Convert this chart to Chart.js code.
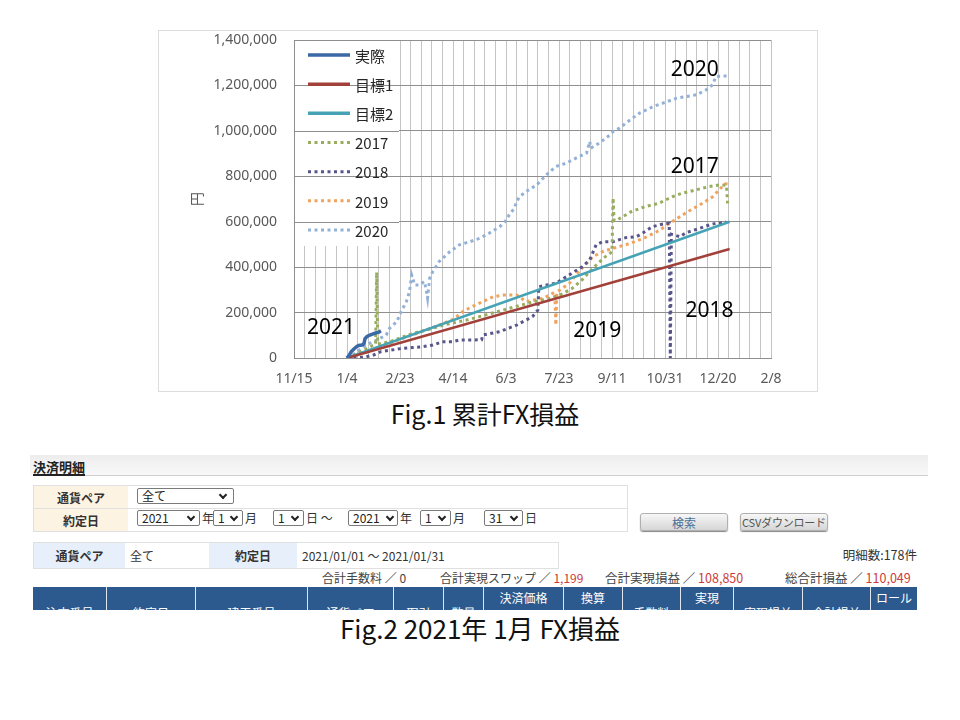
<!DOCTYPE html>
<html><head><meta charset="utf-8">
<script src="https://cdn.jsdelivr.net/npm/chart.js@4.4.1/dist/chart.umd.min.js"></script>
<style>
body{margin:0;width:960px;height:720px;background:#fff;position:relative;overflow:hidden;font-family:"Noto Sans CJK JP","Noto Sans",sans-serif;color:#333;}
#chartBox{position:absolute;left:158px;top:30px;width:660px;height:362px;border:1px solid #dcdcdc;box-sizing:border-box;}
canvas{display:block}
.a{position:absolute;white-space:nowrap;line-height:1;}
.cap{position:absolute;white-space:nowrap;color:#111;transform:translate(-50%,-50%);font-family:"Noto Sans CJK JP","Noto Sans",sans-serif;}
.box{position:absolute;box-sizing:border-box;}
.sel{position:absolute;box-sizing:border-box;border:1px solid #7a7a7a;border-radius:2px;height:16px;font-size:12px;line-height:14px;padding-left:4px;background:#fff;color:#222;}
.sel i{position:absolute;top:3px;width:4px;height:4px;border-right:2px solid #222;border-bottom:2px solid #222;transform:rotate(45deg);}
.lab{position:absolute;box-sizing:border-box;font-size:12px;font-weight:bold;color:#333;display:flex;align-items:center;justify-content:center;}
.val{position:absolute;box-sizing:border-box;font-size:12px;color:#333;display:flex;align-items:center;padding-left:5px;}
.btn{position:absolute;box-sizing:border-box;height:18px;border:1px solid #b0b0b0;border-radius:3px;background:linear-gradient(#f7f7f7,#d6d6d6);font-size:12px;display:flex;align-items:center;justify-content:center;box-shadow:0 1px 1px #888;white-space:nowrap;}
.red{color:#cc3b3b;}
#hdr{position:absolute;left:33px;top:587px;width:884px;height:23px;background:#2d5a8e;overflow:hidden;}
#hdr div{position:absolute;top:0;height:60px;border-left:1px solid #dfe6ef;box-sizing:border-box;color:#fff;font-size:12px;text-align:center;line-height:17px;}
</style></head>
<body>
<div id="chartBox"><canvas id="c" width="658" height="360"></canvas></div>
<div class="cap" style="left:485px;top:413px;font-size:25px;">Fig.1 累計FX損益</div>

<!-- Fig.2 screenshot -->
<div class="box" style="left:30px;top:455px;width:898px;height:21px;background:linear-gradient(#ededed,#f9f9f9);"></div>
<div class="a" style="left:33px;top:460px;font-size:13px;font-weight:bold;color:#222;">決済明細</div>
<div class="box" style="left:33px;top:474px;width:52px;height:2px;background:#222;"></div>
<div class="box" style="left:85px;top:475px;width:843px;height:1px;background:#d0d0d0;"></div>

<div class="box" style="left:33px;top:485px;width:595px;height:47px;border:1px solid #e0e0e0;"></div>
<div class="box" style="left:33px;top:508px;width:595px;height:1px;background:#e0e0e0;"></div>
<div class="lab" style="left:34px;top:486px;width:94px;height:22px;background:#fdf3e3;">通貨ペア</div>
<div class="lab" style="left:34px;top:509px;width:94px;height:22px;background:#fdf3e3;">約定日</div>
<div class="sel" style="left:137px;top:488px;width:97px;">全て<i style="left:82px"></i></div>
<div class="sel" style="left:137px;top:510px;width:63px;">2021<i style="left:50px"></i></div><div class="a" style="left:202px;top:512px;font-size:12px;">年</div>
<div class="sel" style="left:213px;top:510px;width:30px;">1<i style="left:17px"></i></div><div class="a" style="left:245px;top:512px;font-size:12px;">月</div>
<div class="sel" style="left:273px;top:510px;width:31px;">1<i style="left:18px"></i></div><div class="a" style="left:306px;top:512px;font-size:12px;">日 ～</div>
<div class="sel" style="left:348px;top:510px;width:50px;">2021<i style="left:38px"></i></div><div class="a" style="left:400px;top:512px;font-size:12px;">年</div>
<div class="sel" style="left:420px;top:510px;width:31px;">1<i style="left:18px"></i></div><div class="a" style="left:453px;top:512px;font-size:12px;">月</div>
<div class="sel" style="left:484px;top:510px;width:39px;">31<i style="left:26px"></i></div><div class="a" style="left:525px;top:512px;font-size:12px;">日</div>
<div class="btn" style="left:640px;top:513px;width:88px;color:#4b6f96;">検索</div>
<div class="btn" style="left:740px;top:513px;width:88px;color:#555;font-size:11px;letter-spacing:-0.2px;">CSVダウンロード</div>

<div class="box" style="left:33px;top:542px;width:526px;height:27px;border:1px solid #e0e0e0;"></div>
<div class="lab" style="left:34px;top:543px;width:91px;height:25px;background:#e7f0fa;">通貨ペア</div>
<div class="val" style="left:125px;top:543px;width:84px;height:25px;">全て</div>
<div class="lab" style="left:209px;top:543px;width:88px;height:25px;background:#e7f0fa;">約定日</div>
<div class="val" style="left:297px;top:543px;width:261px;height:25px;">2021/01/01 ～ 2021/01/31</div>
<div class="a" style="right:43px;top:549px;font-size:12.5px;">明細数:178件</div>

<div class="a" style="left:322px;top:572px;font-size:12px;color:#444;">合計手数料 ／ 0</div>
<div class="a" style="left:440px;top:572px;font-size:12px;color:#444;">合計実現スワップ ／ <span class="red">1,199</span></div>
<div class="a" style="left:605px;top:572px;font-size:12.5px;color:#444;">合計実現損益 ／ <span class="red">108,850</span></div>
<div class="a" style="left:785px;top:572px;font-size:12.5px;color:#444;">総合計損益 ／ <span class="red">110,049</span></div>

<div id="hdr">
<div style="left:0;width:73px;border-left:none;padding-top:17px;">注文番号</div>
<div style="left:73px;width:89px;padding-top:17px;">約定日</div>
<div style="left:162px;width:112px;padding-top:17px;">建玉番号</div>
<div style="left:274px;width:86px;padding-top:17px;">通貨ペア</div>
<div style="left:360px;width:50px;padding-top:17px;">取引</div>
<div style="left:410px;width:40px;padding-top:17px;">数量</div>
<div style="left:450px;width:80px;padding-top:2px;">決済価格</div>
<div style="left:530px;width:59px;padding-top:2px;">換算</div>
<div style="left:589px;width:58px;padding-top:17px;">手数料</div>
<div style="left:647px;width:53px;padding-top:2px;">実現</div>
<div style="left:700px;width:69px;padding-top:17px;">実現損益</div>
<div style="left:769px;width:68px;padding-top:17px;">合計損益</div>
<div style="left:837px;width:47px;padding-top:2px;">ロール</div>
</div>
<div class="cap" style="left:480px;top:627px;font-size:26px;">Fig.2 2021年 1月 FX損益</div>

<script>
// ---------- data ----------
const xTickLabels = ['11/15','1/4','2/23','4/14','6/3','7/23','9/11','10/31','12/20','2/8'];
const yMax = 1400000, yStep = 200000;

const actualDates  = ['1/4','1/6','1/8','1/11','1/13','1/15','1/18','1/20','1/21','1/23','1/25','1/28','1/31','2/3','2/5'];
const actualValues = [0,12000,28000,42000,50000,55000,57000,62000,85000,95000,100000,105000,110049,114000,120000];

const target1Dates  = ['1/4','12/31'];
const target1Values = [0,480000];
const target2Dates  = ['1/4','12/31'];
const target2Values = [0,600000];

const y2017Dates  = ['1/4','1/12','1/20','1/28','1/31','2/1','2/2','2/12','2/23','3/5','3/15','3/25','4/5','4/15','5/1','5/15','6/1','6/15','7/1','7/15','7/25','8/4','8/14','8/24','9/3','9/11','9/12','9/13','9/16','9/29','10/12','10/25','11/7','11/16','11/29','12/12','12/21','12/28','12/29'];
const y2017Values = [0,15000,35000,55000,60000,377000,62000,70000,88000,105000,118000,130000,145000,155000,172000,190000,212000,230000,250000,262000,280000,305000,345000,395000,440000,467000,705000,605000,608000,644000,666000,681000,710000,725000,740000,755000,762000,760000,681000];

const y2018Dates  = ['1/4','1/20','1/29','2/5','2/15','2/26','3/7','3/17','3/26','4/4','4/14','4/20','5/11','5/12','5/28','6/13','6/28','7/3','7/4','7/20','7/30','8/14','8/21','8/27','9/2','9/12','9/24','10/4','10/10','10/19','10/29','11/4','11/5','11/6','11/14','11/20','12/3','12/12','12/18','12/28'];
const y2018Values = [0,3000,13000,28000,35000,43000,46000,50000,57000,72000,72000,79000,80000,101000,116000,145000,182000,211000,314000,329000,358000,402000,432000,498000,512000,512000,530000,534000,550000,578000,590000,593000,0,545000,534000,552000,571000,586000,593000,598000];

const y2019Dates  = ['1/4','1/15','1/31','2/15','3/1','3/15','4/1','4/14','4/25','5/12','5/22','6/1','6/13','6/22','7/8','7/14','7/19','7/20','7/21','7/24','8/2','8/8','8/15','8/24','9/2','9/12','9/25','10/10','10/25','11/5','11/20','12/5','12/15','12/22','12/27','12/30'];
const y2019Values = [0,15000,40000,68000,92000,115000,145000,170000,210000,248000,270000,277000,277000,248000,263000,277000,290000,145000,292000,300000,329000,366000,402000,446000,468000,483000,500000,525000,560000,595000,640000,680000,710000,745000,767000,765000];

const y2020Dates  = ['1/4','1/10','1/17','1/23','1/29','2/4','2/10','2/13','2/20','2/24','3/1','3/4','3/6','3/9','3/13','3/18','3/20','3/21','3/23','3/26','4/1','4/11','4/20','4/30','5/9','5/18','5/28','6/2','6/6','6/11','6/13','6/16','6/22','7/2','7/11','7/20','7/30','8/8','8/18','8/21','8/22','8/30','9/9','9/12','9/18','9/28','10/7','10/20','10/29','11/11','11/20','11/30','12/9','12/15','12/18','12/25','12/29'];
const y2020Values = [0,15000,40000,60000,72000,86000,101000,130000,160000,204000,248000,293000,365000,321000,321000,337000,293000,264000,352000,381000,425000,468000,498000,512000,527000,549000,578000,600000,630000,660000,689000,711000,733000,762000,806000,843000,858000,880000,902000,953000,924000,946000,982000,997000,1012000,1048000,1078000,1107000,1122000,1144000,1151000,1159000,1181000,1203000,1239000,1242000,1242000];

// year labels written on the chart: [text, day offset from 11/15, value]
const yearNotes = [['2021',35,132000],['2020',378,1268000],['2017',378,841000],['2019',286,119000],['2018',392,207000]];

// ---------- helpers ----------
const ORIGIN = Date.UTC(2020,10,15);
function dayOf(md){const p=md.split('/').map(Number);return (Date.UTC(2021,p[0]-1,p[1])-ORIGIN)/86400000;}
function pts(ds,vs){return ds.map((t,i)=>({x:dayOf(t),y:vs[i]}));}
const DOT=[3,3.5];
const datasets=[
 {label:'実際',data:pts(actualDates,actualValues),borderColor:'#3a69a6',borderWidth:3.5},
 {label:'目標1',data:pts(target1Dates,target1Values),borderColor:'#a2403a',borderWidth:2.5},
 {label:'目標2',data:pts(target2Dates,target2Values),borderColor:'#46a3b5',borderWidth:2.5},
 {label:'2017',data:pts(y2017Dates,y2017Values),borderColor:'#98ad5e',borderWidth:3,borderDash:DOT},
 {label:'2018',data:pts(y2018Dates,y2018Values),borderColor:'#58558a',borderWidth:3,borderDash:DOT},
 {label:'2019',data:pts(y2019Dates,y2019Values),borderColor:'#f0a35e',borderWidth:3,borderDash:DOT},
 {label:'2020',data:pts(y2020Dates,y2020Values),borderColor:'#93b1d6',borderWidth:3,borderDash:DOT}
];
datasets.forEach(d=>{d.pointRadius=0;d.tension=0;d.fill=false;d.borderCapStyle='butt';});

const HGRID='#8f8f8f', VGRID='#c4c4c4';
const legendPlugin={
 id:'insideLegend',
 beforeDatasetsDraw(chart){
  const ctx=chart.ctx, ca=chart.chartArea, ys=chart.scales.y;
  const w=104, h=205;
  ctx.save();
  ctx.fillStyle='#fff'; ctx.fillRect(ca.left+1,ca.top+1,w,h);
  ctx.strokeStyle=HGRID; ctx.lineWidth=1;
  ys.ticks.forEach(t=>{const y=Math.round(ys.getPixelForValue(t.value))+0.5; if(y>ca.top+1&&y<ca.top+1+h){ctx.beginPath();ctx.moveTo(ca.left,y);ctx.lineTo(ca.left+1+w,y);ctx.stroke();}});
  ctx.restore();
 },
 afterDatasetsDraw(chart){
  const ctx=chart.ctx, ca=chart.chartArea, xs=chart.scales.x, ys=chart.scales.y;
  ctx.save();
  chart.data.datasets.forEach((ds,i)=>{
   const y=ca.top+15+i*29.17;
   ctx.strokeStyle=ds.borderColor; ctx.lineWidth=ds.borderDash?3:3.5;
   ctx.setLineDash(ds.borderDash||[]);
   ctx.beginPath(); ctx.moveTo(ca.left+14,y); ctx.lineTo(ca.left+56,y); ctx.stroke();
   ctx.setLineDash([]);
   ctx.fillStyle='#262626'; ctx.font='15px "Noto Sans CJK JP","Noto Sans"'; ctx.textBaseline='middle'; ctx.textAlign='left';
   ctx.fillText(ds.label,ca.left+61,y+1);
  });
  ctx.fillStyle='#000'; ctx.font='21px "Noto Sans","DejaVu Sans"'; ctx.textAlign='center'; ctx.textBaseline='middle';
  yearNotes.forEach(n=>ctx.fillText(n[0],xs.getPixelForValue(n[1]),ys.getPixelForValue(n[2])));
  ctx.restore();
 }
};

new Chart(document.getElementById('c'),{
 type:'line',
 data:{datasets},
 options:{
  responsive:false, animation:false, devicePixelRatio:1,
  layout:{padding:{left:0,right:46,top:9,bottom:0}},
  plugins:{legend:{display:false},tooltip:{enabled:false}},
  scales:{
   x:{type:'linear',min:0,max:450,
      afterFit:s=>{s.height=33;},
      grid:{color:VGRID,drawTicks:false},
      border:{color:HGRID},
      ticks:{stepSize:10,autoSkip:false,maxRotation:0,padding:13,color:'#595959',font:{family:'"Noto Sans"',size:14},
             callback:v=>(v%50===0?xTickLabels[v/50]:'')}},
   y:{min:0,max:yMax,
      afterFit:s=>{s.width=135;s.paddingTop=0;s.paddingBottom=0;},
      grid:{color:HGRID,drawTicks:false},
      border:{color:HGRID},
      title:{display:true,text:'円',color:'#595959',font:{family:'"Noto Sans CJK JP"',size:14},padding:{top:29,bottom:0}},
      ticks:{stepSize:yStep,padding:17,color:'#595959',font:{family:'"Noto Sans"',size:14},
             callback:v=>v.toLocaleString('en-US')}}
  }
 },
 plugins:[legendPlugin]
});
</script>
</body></html>
